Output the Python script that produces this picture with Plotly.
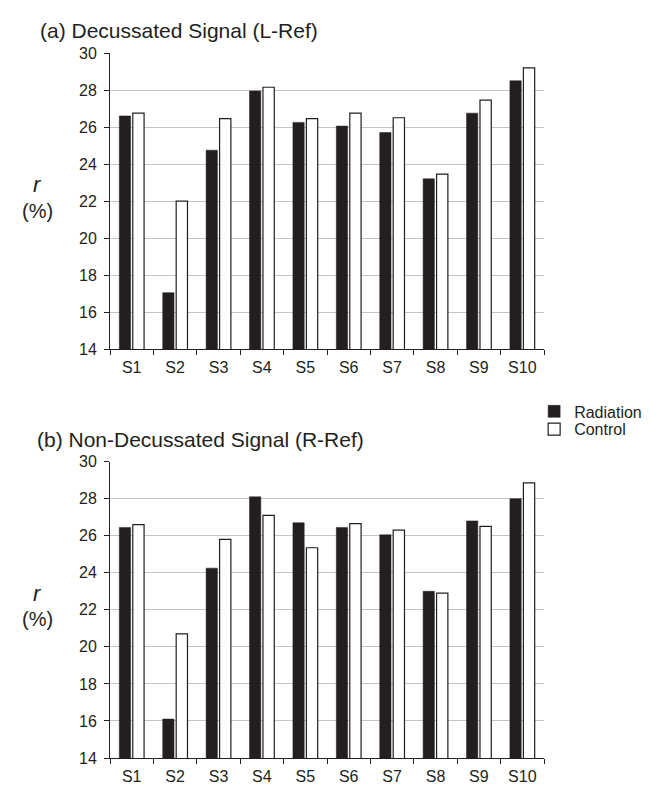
import plotly.graph_objects as go

subjects = ["S1", "S2", "S3", "S4", "S5", "S6", "S7", "S8", "S9", "S10"]
y_ticks = [14, 16, 18, 20, 22, 24, 26, 28, 30]

# (a) Decussated Signal (L-Ref)
dec_radiation = [26.6, 17.05, 24.75, 27.95, 26.25, 26.05, 25.7, 23.2, 26.75, 28.5]
dec_control = [26.75, 22.0, 26.45, 28.15, 26.45, 26.75, 26.5, 23.45, 27.45, 29.2]

# (b) Non-Decussated Signal (R-Ref)
nondec_radiation = [26.45, 16.1, 24.25, 28.1, 26.7, 26.45, 26.05, 23.0, 26.8, 28.0]
nondec_control = [26.6, 20.7, 25.8, 27.1, 25.35, 26.65, 26.3, 22.9, 26.5, 28.85]

DARK = "#231f20"
FONT = "Liberation Sans, Arial, sans-serif"

W, H = 651, 789
ML, MR, MT, MB = 102, 109, 45, 28
PH = H - MT - MB
PW = W - ML - MR


def py(y):
    return (H - MB - y) / PH


def px(x):
    return (x - ML) / PW


fig = go.Figure()
fig.add_trace(go.Bar(x=subjects, y=dec_radiation, name="Radiation",
                     marker=dict(color=DARK, line=dict(color=DARK, width=0.5)),
                     xaxis="x", yaxis="y", legend="legend"))
fig.add_trace(go.Bar(x=subjects, y=dec_control, name="Control",
                     marker=dict(color="white", line=dict(color=DARK, width=1.2)),
                     xaxis="x", yaxis="y", legend="legend2"))
fig.add_trace(go.Bar(x=subjects, y=nondec_radiation, name="Radiation",
                     marker=dict(color=DARK, line=dict(color=DARK, width=0.5)),
                     xaxis="x2", yaxis="y2", showlegend=False))
fig.add_trace(go.Bar(x=subjects, y=nondec_control, name="Control",
                     marker=dict(color="white", line=dict(color=DARK, width=1.2)),
                     xaxis="x2", yaxis="y2", showlegend=False))

yax = dict(range=[14, 30], tickvals=y_ticks, showline=True, linecolor=DARK, linewidth=1,
           ticks="outside", ticklen=5, tickcolor=DARK, showgrid=True, gridcolor="#c4c4c4",
           gridwidth=1, zeroline=False, ticklabelstandoff=4,
           tickfont=dict(size=16, color=DARK, family=FONT))
xax = dict(type="category", showline=True, linecolor=DARK, linewidth=1, ticks="outside",
           tickson="boundaries", ticklen=5, tickcolor=DARK, showgrid=False,
           ticklabelstandoff=4, tickfont=dict(size=16, color=DARK, family=FONT))

leg = dict(xanchor="left", yanchor="middle", font=dict(size=16, color=DARK, family=FONT),
           itemwidth=30, bgcolor="rgba(0,0,0,0)", borderwidth=0)

fig.update_layout(
    width=W, height=H,
    margin=dict(l=ML, r=MR, t=MT, b=MB),
    paper_bgcolor="white", plot_bgcolor="white",
    barmode="group", bargap=0.38, bargroupgap=0.16,
    font=dict(family=FONT, color=DARK),
    xaxis=dict(domain=[0, 1], anchor="y", **xax),
    yaxis=dict(domain=[py(345.7), 1], anchor="x", **yax),
    xaxis2=dict(domain=[0, 1], anchor="y2", **xax),
    yaxis2=dict(domain=[0, py(460)], anchor="x2", **yax),
    legend=dict(x=px(532), y=py(409), **leg),
    legend2=dict(x=px(532), y=py(427), **leg),
    showlegend=True,
)

annotations = [
    dict(text="(a) Decussated Signal (L-Ref)", x=px(29), y=py(22), xanchor="left",
         yanchor="middle", font=dict(size=21)),
    dict(text="(b) Non-Decussated Signal (R-Ref)", x=px(26), y=py(438), xanchor="left",
         yanchor="middle", font=dict(size=21)),
    dict(text="<i>r</i>", x=px(28), y=py(179), xanchor="center", yanchor="middle",
         font=dict(size=22)),
    dict(text="(%)", x=px(28), y=py(205), xanchor="center", yanchor="middle",
         font=dict(size=20)),
    dict(text="<i>r</i>", x=px(28), y=py(594), xanchor="center", yanchor="middle",
         font=dict(size=22)),
    dict(text="(%)", x=px(28), y=py(620), xanchor="center", yanchor="middle",
         font=dict(size=20)),
]
for a in annotations:
    a.update(xref="paper", yref="paper", showarrow=False)
    a["font"].update(family=FONT, color=DARK)
fig.update_layout(annotations=annotations)

fig.write_html("out.html")
